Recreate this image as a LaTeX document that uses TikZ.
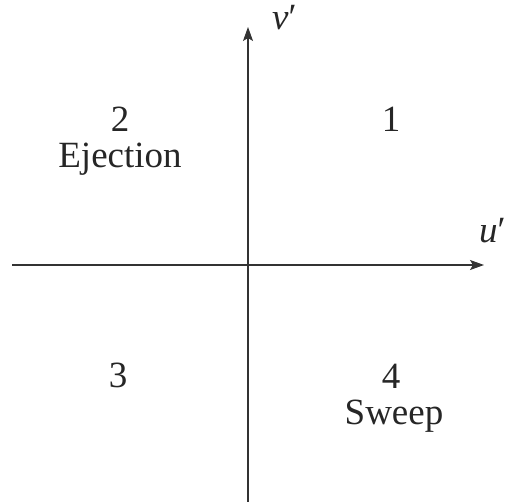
\documentclass[tikz,border=0pt]{standalone}
\usepackage{fontspec}
\setmainfont{Liberation Serif}
\usetikzlibrary{arrows.meta}
\begin{document}
\begin{tikzpicture}[x=1pt,y=-1pt,
  axis/.style={draw=black!80,line width=1.1pt,-{Stealth[length=14pt,width=10pt,inset=3pt]}},
  lbl/.style={anchor=base,inner sep=0pt,font=\fontsize{37}{40}\selectfont,text=black!85}]
\useasboundingbox (0,0) rectangle (505,502);
\coordinate (xs) at (12,265);
\coordinate (xe) at (484,265);
\coordinate (ys) at (248,502);
\coordinate (ye) at (248,27);
\draw[axis] (xs) -- (xe);
\draw[axis] (ys) -- (ye);
\node[lbl,anchor=base west] (v) at (272,30) {\textit{v}′};
\node[lbl,anchor=base west] (u) at (479,243) {\textit{u}′};
\node[lbl] (q2) at (120,132) {2};
\node[lbl] (ej) at (120,168) {Ejection};
\node[lbl] (q1) at (391,132) {1};
\node[lbl] (q3) at (118,387) {3};
\node[lbl] (q4) at (391,388) {4};
\node[lbl] (sw) at (394,424) {Sweep};
\end{tikzpicture}
\end{document}
